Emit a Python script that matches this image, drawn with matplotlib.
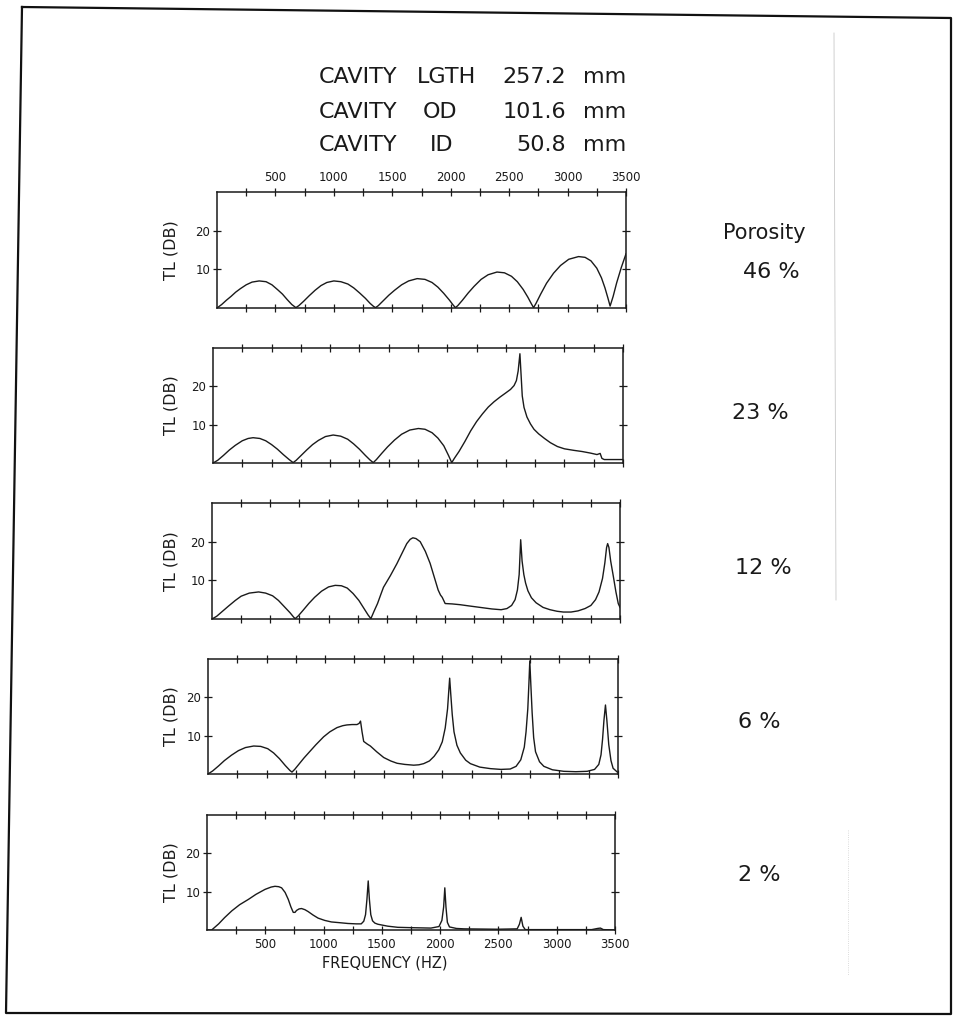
import numpy as np
import matplotlib.pyplot as plt
from matplotlib.lines import Line2D

W, H = 956, 1019

# TL (dB) versus frequency (Hz), one curve per porosity
p46 = [(0, 0), (40, 0.9), (80, 2.0), (120, 3.0), (160, 4.1), (200, 5.0), (250, 6.0),
       (300, 6.7), (361, 7.0), (420, 6.8), (470, 6.0), (520, 4.7), (560, 3.6), (600, 2.2),
       (640, 0.9), (675, 0.1),
       (700, 0.6), (740, 1.7), (790, 3.2), (840, 4.6), (890, 5.8), (940, 6.6), (1000, 7.0),
       (1060, 6.8), (1120, 6.2), (1170, 5.2), (1220, 3.9), (1270, 2.5), (1310, 1.2),
       (1340, 0.4), (1357, 0.1),
       (1380, 0.6), (1420, 1.8), (1470, 3.3), (1520, 4.6), (1580, 6.0), (1640, 7.0),
       (1713, 7.6), (1780, 7.4), (1840, 6.6), (1890, 5.4), (1940, 3.8), (1990, 2.0),
       (2020, 0.8), (2040, 0.1),
       (2060, 0.6), (2100, 2.0), (2150, 3.9), (2200, 5.6), (2260, 7.4), (2320, 8.6),
       (2396, 9.3), (2460, 9.1), (2520, 8.2), (2570, 6.8), (2620, 4.8), (2660, 2.8),
       (2690, 1.1), (2709, 0.1),
       (2730, 1.2), (2770, 3.6), (2820, 6.4), (2880, 9.0), (2940, 11.0), (3010, 12.6),
       (3094, 13.3), (3150, 13.1), (3200, 12.2), (3250, 10.3), (3290, 7.8), (3320, 5.2),
       (3345, 2.6), (3364, 0.5),
       (3390, 3.0), (3420, 6.5), (3460, 10.5), (3500, 14.0)]

p23 = [(0, 0), (40, 0.7), (90, 2.0), (140, 3.4), (190, 4.6), (250, 5.8), (300, 6.4),
       (342, 6.6), (400, 6.4), (450, 5.8), (500, 4.8), (550, 3.6), (600, 2.2), (650, 0.9),
       (684, 0.1),
       (710, 0.7), (750, 1.9), (800, 3.4), (850, 4.8), (900, 5.9), (960, 6.9), (1026, 7.3),
       (1090, 7.0), (1150, 6.2), (1200, 5.0), (1250, 3.6), (1300, 2.0), (1340, 0.8),
       (1368, 0.1),
       (1395, 0.9), (1440, 2.5), (1490, 4.2), (1550, 6.0), (1610, 7.5), (1680, 8.6),
       (1753, 9.0), (1810, 8.8), (1870, 7.9), (1920, 6.5), (1970, 4.5), (2010, 2.0),
       (2038, 0.1),
       (2060, 1.2), (2100, 3.0), (2150, 5.6), (2200, 8.4), (2250, 10.8), (2300, 12.8),
       (2350, 14.6), (2400, 16.0), (2450, 17.2), (2500, 18.3), (2540, 19.2), (2570, 20.2),
       (2590, 21.5), (2605, 24.0), (2620, 28.5),
       (2630, 23.0), (2640, 17.5), (2655, 14.5), (2680, 12.0), (2710, 10.2), (2740, 8.8),
       (2780, 7.6), (2830, 6.4), (2880, 5.3), (2940, 4.3), (3000, 3.7), (3080, 3.3),
       (3150, 3.0), (3220, 2.6), (3278, 2.2), (3305, 2.5), (3320, 1.2), (3340, 0.9),
       (3500, 0.9)]

p12 = [(0, 0), (40, 0.7), (90, 2.0), (140, 3.3), (200, 4.8), (250, 5.9), (320, 6.7),
       (400, 7.0), (460, 6.7), (520, 6.0), (570, 4.8), (620, 3.2), (670, 1.6), (700, 0.5),
       (714, 0.1),
       (740, 0.8), (780, 2.2), (830, 4.0), (880, 5.6), (940, 7.2), (1000, 8.3), (1057, 8.7),
       (1110, 8.6), (1160, 8.0), (1210, 6.6), (1260, 4.8), (1300, 2.9), (1340, 1.0),
       (1363, 0.1),
       (1390, 2.0), (1420, 4.0), (1450, 6.5), (1471, 8.2), (1530, 11.2), (1586, 14.3),
       (1630, 17.0), (1671, 19.5), (1700, 20.6), (1723, 21.0), (1750, 20.8), (1786, 20.0),
       (1830, 17.5), (1871, 14.4), (1910, 10.5), (1940, 7.5), (1960, 6.2), (1975, 5.6),
       (2000, 4.0), (2060, 3.9), (2128, 3.7), (2200, 3.4), (2300, 3.0), (2400, 2.6),
       (2480, 2.4), (2530, 2.7), (2570, 3.5), (2600, 5.0), (2620, 7.5), (2635, 11.5),
       (2648, 20.5), (2660, 15.0), (2675, 11.5), (2690, 9.3), (2710, 7.3), (2740, 5.5),
       (2780, 4.2), (2840, 3.0), (2900, 2.4), (2960, 2.0), (3014, 1.8), (3080, 1.8),
       (3140, 2.1), (3200, 2.7), (3250, 3.5), (3290, 5.0), (3320, 7.0), (3350, 10.5),
       (3370, 14.5), (3385, 18.5), (3394, 19.5), (3405, 18.5), (3420, 15.0), (3443, 11.0),
       (3465, 7.0), (3485, 4.0), (3500, 3.0)]

p6 = [(0, 0), (40, 0.8), (90, 2.1), (140, 3.5), (200, 4.9), (260, 6.1), (320, 6.9),
      (390, 7.3), (450, 7.2), (510, 6.6), (560, 5.5), (610, 4.0), (660, 2.2), (700, 0.9),
      (717, 0.5),
      (740, 1.2), (780, 2.7), (820, 4.2), (870, 5.9), (920, 7.6), (987, 9.7), (1040, 11.0),
      (1101, 12.1), (1150, 12.6), (1186, 12.8), (1230, 12.9), (1272, 12.9), (1290, 13.2),
      (1302, 13.8), (1315, 11.0), (1329, 8.5), (1360, 7.8), (1386, 7.3), (1440, 5.8),
      (1500, 4.3), (1560, 3.4), (1614, 2.8), (1680, 2.5), (1756, 2.3), (1800, 2.4),
      (1841, 2.7), (1890, 3.4), (1930, 4.6), (1970, 6.3), (2000, 8.4), (2025, 12.0),
      (2045, 17.0), (2055, 21.5), (2063, 25.0), (2072, 21.0), (2085, 15.5), (2100, 11.0),
      (2125, 7.5), (2154, 5.5), (2200, 3.6), (2240, 2.7), (2320, 1.8), (2411, 1.4),
      (2500, 1.2), (2580, 1.3), (2630, 2.0), (2670, 3.7), (2700, 7.0), (2715, 11.0),
      (2730, 17.0), (2740, 24.0), (2747, 29.5), (2755, 24.0), (2767, 16.0), (2780, 9.5),
      (2796, 5.8), (2830, 3.2), (2867, 2.0), (2940, 1.1), (3037, 0.7), (3140, 0.6),
      (3237, 0.7), (3300, 1.2), (3336, 2.5), (3355, 5.0), (3368, 9.0), (3380, 14.0),
      (3393, 18.0), (3405, 14.0), (3421, 7.7), (3440, 3.5), (3458, 1.5), (3494, 0.5)]

p2 = [(0, 0), (40, 0), (70, 0.8), (100, 1.6), (150, 3.2), (213, 5.0), (280, 6.6),
      (356, 8.0), (420, 9.3), (498, 10.6), (550, 11.2), (583, 11.4), (615, 11.3),
      (640, 11.0), (670, 9.8), (697, 8.0), (720, 6.0), (740, 4.6), (755, 4.6), (768, 5.1),
      (790, 5.5), (811, 5.6), (840, 5.3), (868, 4.8), (910, 3.9), (953, 3.1), (1010, 2.5),
      (1067, 2.1), (1140, 1.9), (1209, 1.7), (1280, 1.6), (1323, 1.6), (1345, 2.3),
      (1360, 4.0), (1372, 8.0), (1383, 12.8), (1393, 8.0), (1405, 4.0), (1420, 2.4),
      (1440, 1.8), (1466, 1.5), (1550, 1.0), (1637, 0.7), (1760, 0.6), (1921, 0.5),
      (1990, 0.9), (2015, 2.5), (2030, 6.0), (2040, 11.0), (2050, 6.0), (2062, 2.0),
      (2080, 0.8), (2140, 0.4), (2205, 0.3), (2490, 0.2), (2661, 0.3), (2680, 1.5),
      (2695, 3.3), (2710, 1.0), (2730, 0.1), (3300, 0.1), (3350, 0.4), (3375, 0.5),
      (3400, 0.1), (3500, 0.0)]

curves = [p46, p23, p12, p6, p2]
porosity = ['46 %', '23 %', '12 %', '6 %', '2 %']

header_names = ['CAVITY', 'CAVITY', 'CAVITY']
header_keys = ['LGTH', 'OD', 'ID']
header_vals = ['257.2', '101.6', '50.8']

freq_major = [500, 1000, 1500, 2000, 2500, 3000, 3500]
freq_minor = [250, 750, 1250, 1750, 2250, 2750, 3250]
tl_ticks = [10, 20]

# panel boxes in pixels: left, top, right, bottom
boxes = [(217, 192, 626, 308),
         (213, 348, 623, 463),
         (212, 503, 620, 619),
         (208, 659, 618, 774),
         (207, 815, 615, 930)]
label_pos = [(743, 272), (732, 413), (735, 568), (738, 722), (738, 875)]

fig = plt.figure(figsize=(W / 100, H / 100), dpi=100)

for i, (pts, (l, t, r, b)) in enumerate(zip(curves, boxes)):
    fx, ty = zip(*pts)
    ax = fig.add_axes([l / W, 1 - b / H, (r - l) / W, (b - t) / H])
    ax.plot(fx, ty, color='#1a1a1a', lw=1.0)
    ax.set_xlim(0, 3500)
    ax.set_ylim(0, 30)
    ax.set_xticks(freq_major)
    ax.set_xticks(freq_minor, minor=True)
    ax.set_yticks(tl_ticks)
    ax.tick_params(which='both', direction='inout', length=6, width=0.9,
                   top=True, bottom=True, left=True, right=True,
                   labelsize=8.5, pad=2, colors='#1a1a1a')
    ax.tick_params(axis='x', labeltop=(i == 0), labelbottom=(i == 4), pad=3)
    for s in ax.spines.values():
        s.set_linewidth(1.1)
        s.set_color('#1a1a1a')
    fig.text(171 / W, 1 - (t + b) / 2 / H, 'TL (DB)', rotation=90,
             ha='center', va='center', fontsize=11.5, color='#1a1a1a')
    px, py = label_pos[i]
    fig.text(px / W, 1 - py / H, porosity[i], ha='left', va='center',
             fontsize=16, color='#1a1a1a')

fig.text(723 / W, 1 - 233 / H, 'Porosity', ha='left', va='center',
         fontsize=15, color='#1a1a1a')
fig.text(385 / W, 1 - 963 / H, 'FREQUENCY (HZ)', ha='center', va='center',
         fontsize=10.5, color='#1a1a1a')

base_y = [83, 118, 151]
key_x = [417, 423, 430]
for j in range(3):
    y = 1 - base_y[j] / H
    fig.text(319 / W, y, header_names[j], ha='left', va='baseline', fontsize=16, color='#1a1a1a')
    fig.text(key_x[j] / W, y, header_keys[j], ha='left', va='baseline', fontsize=16, color='#1a1a1a')
    fig.text(566 / W, y, header_vals[j], ha='right', va='baseline', fontsize=16, color='#1a1a1a')
    fig.text(583 / W, y, 'mm', ha='left', va='baseline', fontsize=16, color='#1a1a1a')

# outer frame of the scanned page (slightly skewed)
fx_ = np.array([22, 951, 951, 6, 22]) / W
fy_ = 1 - np.array([7, 18, 1014, 1013, 7]) / H
fig.add_artist(Line2D(fx_, fy_, color='#111111', lw=1.6))
# faint scan lines on the right
fig.add_artist(Line2D([834 / W, 836 / W], [1 - 33 / H, 1 - 600 / H], color='#c8c8c8', lw=0.6))
fig.add_artist(Line2D([848 / W, 848 / W], [1 - 830 / H, 1 - 975 / H], color='#cfcfcf', lw=0.6, ls=':'))

fig.savefig('out.png', dpi=100)
